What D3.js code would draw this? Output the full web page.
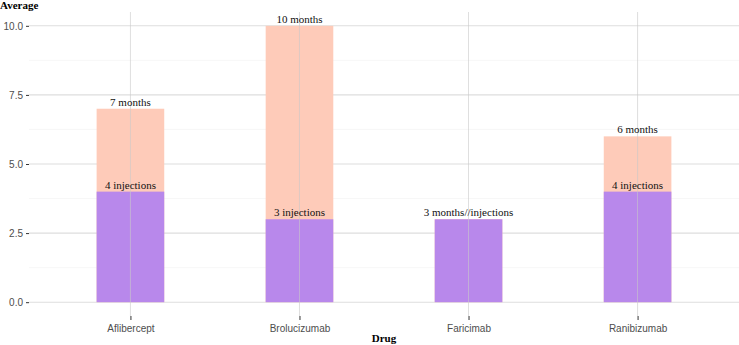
<!DOCTYPE html>
<meta charset="utf-8">
<style>
    body { margin: 0; background: #fff; }
    .tick text { font-family: "Liberation Sans", Arial, sans-serif; font-size: 10px; fill: #4d4d4d; }
    .lab { font-family: "Liberation Serif", "Times New Roman", serif; font-size: 11px; fill: #111; }
    .ttl { font-family: "Liberation Serif", "Times New Roman", serif; font-size: 11px; font-weight: bold; fill: #000; }
</style>
<svg width="739" height="345"></svg>
<script src="https://cdn.jsdelivr.net/npm/d3@7"></script>
<script>

    // chart values
    var drugs = ["Aflibercept", "Brolucizumab", "Faricimab", "Ranibizumab"];
    var months = [7, 10, 3, 6];
    var injections = [4, 3, 3, 4];
    var monthLabels = ["7 months", "10 months", "", "6 months"];
    var injectionLabels = ["4 injections", "3 injections", "3 months//injections", "4 injections"];
    var yTicks = [0, 2.5, 5, 7.5, 10];
    var yMinor = [1.25, 3.75, 6.25, 8.75];

    var svg = d3.select("svg");
    var pLeft = 29, pRight = 739, pTop = 12, pBottom = 316;

    // one unit per category, 0.6 expansion on each side (ggplot style)
    var unit = (pRight - pLeft) / (drugs.length - 1 + 1.2);
    var x = d3.scalePoint().domain(drugs).range([pLeft + 0.6 * unit, pRight - 0.6 * unit]);
    var barW = 0.4 * unit;

    var y = d3.scaleLinear().domain([-0.5, 10.5]).range([pBottom, pTop]);

    // grid
    svg.selectAll(".minor").data(yMinor).enter().append("line")
            .attr("x1", pLeft).attr("x2", pRight)
            .attr("y1", d => y(d)).attr("y2", d => y(d))
            .attr("stroke", "#f1f1f1").attr("stroke-width", 0.6);
    svg.selectAll(".major").data(yTicks).enter().append("line")
            .attr("x1", pLeft).attr("x2", pRight)
            .attr("y1", d => y(d)).attr("y2", d => y(d))
            .attr("stroke", "#dedede").attr("stroke-width", 1.1);

    var rows = drugs.map((d, i) => ({drug: d, m: months[i], inj: injections[i], ml: monthLabels[i], il: injectionLabels[i]}));

    // bars
    svg.selectAll(".bm").data(rows).enter().append("rect")
            .attr("x", d => x(d.drug) - barW / 2)
            .attr("width", barW)
            .attr("y", d => y(d.m))
            .attr("height", d => y(0) - y(d.m))
            .attr("fill", "#fecbb9");
    svg.selectAll(".bi").data(rows).enter().append("rect")
            .attr("x", d => x(d.drug) - barW / 2)
            .attr("width", barW)
            .attr("y", d => y(d.inj))
            .attr("height", d => y(0) - y(d.inj))
            .attr("fill", "#b888eb");

    // vertical grid (shows through the bars)
    svg.selectAll(".vg").data(drugs).enter().append("line")
            .attr("x1", d => x(d)).attr("x2", d => x(d))
            .attr("y1", pTop).attr("y2", pBottom)
            .attr("stroke", "#c8c8c8").attr("stroke-opacity", 0.6).attr("stroke-width", 1);

    // labels
    svg.selectAll(".ml").data(rows).enter().append("text")
            .attr("class", "lab").attr("text-anchor", "middle")
            .attr("x", d => x(d.drug)).attr("y", d => y(d.m) - 3)
            .text(d => d.ml);
    svg.selectAll(".il").data(rows).enter().append("text")
            .attr("class", "lab").attr("text-anchor", "middle")
            .attr("x", d => x(d.drug)).attr("y", d => y(d.inj) - 3)
            .text(d => d.il);

    // axes
    var ya = svg.append("g").attr("transform", "translate(" + pLeft + ",0)")
            .call(d3.axisLeft(y).tickValues(yTicks).tickFormat(d3.format(".1f")).tickSize(3).tickPadding(3));
    var xa = svg.append("g").attr("transform", "translate(0," + pBottom + ")")
            .call(d3.axisBottom(x).tickSize(4).tickPadding(5));
    [ya, xa].forEach(function (a) {
        a.select(".domain").remove();
        a.selectAll(".tick line").attr("stroke", "#333");
    });

    svg.append("text").attr("class", "ttl").attr("x", 0).attr("y", 9).text("Average");
    svg.append("text").attr("class", "ttl").attr("text-anchor", "middle")
            .attr("x", (pLeft + pRight) / 2).attr("y", 342).text("Drug");

</script>
